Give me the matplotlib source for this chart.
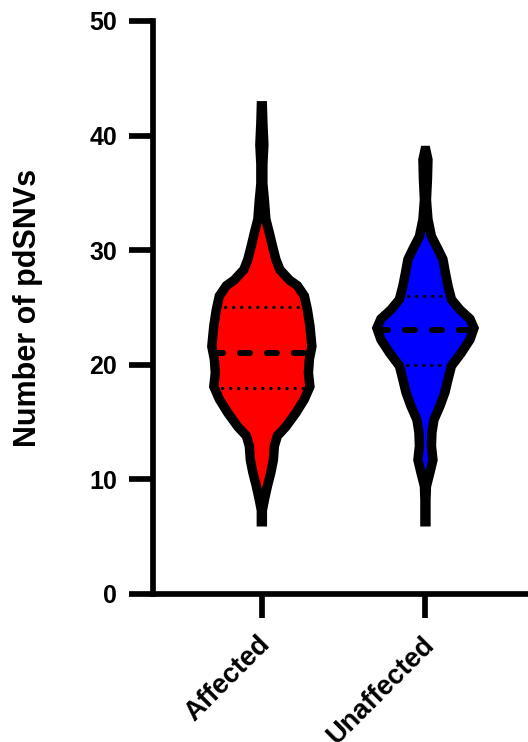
import numpy as np
import matplotlib.pyplot as plt
from matplotlib.transforms import ScaledTranslation

plt.rcParams['font.family'] = ['Liberation Sans', 'DejaVu Sans']
plt.rcParams['font.weight'] = 'bold'
plt.rcParams['lines.scale_dashes'] = False

groups = ['Affected', 'Unaffected']
colors = ['#ff0000', '#0000ff']

# violin outlines: y level and relative half-width (1 = widest)
aff_y = [42.6, 41.1, 39.2, 37.5, 35.8, 34.4, 32.7, 31.5, 30.4, 29.2, 28.3, 27.4, 26.9,
         26.0, 24.8, 23.4, 21.6, 20.5, 19.3, 18.1, 17.0, 15.8, 14.6, 13.8, 12.9, 11.7,
         10.6, 9.4, 8.2, 7.3, 6.3]
aff_w = [0.01, 0.02, 0.04, 0.02, 0.02, 0.05, 0.08, 0.15, 0.21, 0.28, 0.36, 0.55, 0.71,
         0.85, 0.91, 0.96, 1.00, 0.95, 0.93, 0.96, 0.85, 0.68, 0.48, 0.31, 0.25, 0.23,
         0.18, 0.11, 0.05, 0.01, 0.01]
unaff_y = [38.7, 37.9, 36.2, 34.4, 32.7, 31.2, 30.1, 29.2, 28.0, 26.9, 25.7, 24.8, 24.0,
           23.2, 22.2, 21.0, 19.9, 18.7, 17.6, 16.4, 15.2, 14.1, 12.9, 11.7, 10.6, 9.4,
           8.2, 6.3]
unaff_w = [0.01, 0.05, 0.04, 0.02, 0.05, 0.12, 0.25, 0.35, 0.40, 0.45, 0.52, 0.69, 0.89,
           0.97, 0.89, 0.71, 0.52, 0.45, 0.39, 0.29, 0.17, 0.13, 0.12, 0.15, 0.09, 0.02,
           0.01, 0.01]

medians = [21, 23]
q1 = [18, 20]
q3 = [25, 26]

fig = plt.figure(figsize=(5.28, 7.42), dpi=100)
ax = fig.add_axes([0.289, 0.1995, 0.711, 0.7722])

half = 0.306
outlines = [(aff_y, aff_w), (unaff_y, unaff_w)]
for i, (yy, ww) in enumerate(outlines):
    yy = np.array(yy)
    ww = np.array(ww) * half
    ax.fill_betweenx(yy, i - ww, i + ww, color=colors[i], lw=0, zorder=1)
    order = np.argsort(yy)
    lines = [(medians[i], (0, (7.2, 12.2)), 4.3),
             (q1[i], (0, (0.1, 5.7)), 2.4),
             (q3[i], (0, (0.1, 5.7)), 2.4)]
    for q, ls, lw in lines:
        w = np.interp(q, yy[order], ww[order])
        ax.plot([i - w, i + w], [q, q], color='black', lw=lw, ls=ls,
                dash_capstyle='round', zorder=2)
    ax.fill_betweenx(yy, i - ww, i + ww, facecolor='none', edgecolor='black',
                     lw=6.8, joinstyle='miter', zorder=3)

ax.set_xlim(-0.668, 1.627)
ax.set_ylim(0, 50)
ax.set_yticks(range(0, 51, 10))
ax.set_xticks([0, 1], groups)
for s in ['top', 'right']:
    ax.spines[s].set_visible(False)
for s in ['left', 'bottom']:
    ax.spines[s].set_linewidth(4.1)
ax.tick_params(length=17, width=4.1, labelsize=18)
ax.tick_params(axis='y', pad=8.6)
ax.tick_params(axis='x', pad=10, labelsize=19.5)
off = ScaledTranslation(0.14, 0, fig.dpi_scale_trans)
for lab in ax.get_xticklabels():
    lab.set_rotation(45)
    lab.set_ha('right')
    lab.set_transform(lab.get_transform() + off)

ax.set_ylabel('Number of pdSNVs', fontsize=22, fontweight='bold')
ax.yaxis.set_label_coords(-0.292, 0.5)

fig.savefig('out.png', dpi=100)
